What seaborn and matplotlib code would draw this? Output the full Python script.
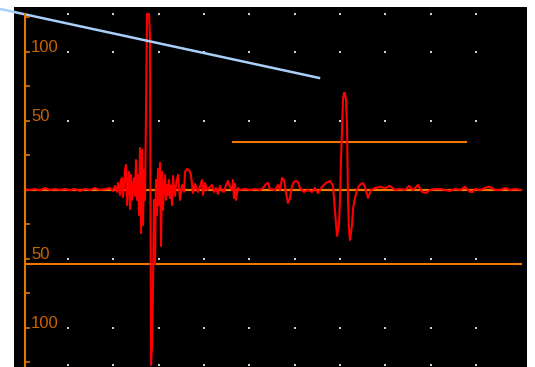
import numpy as np
import pandas as pd
import seaborn as sns
import matplotlib.pyplot as plt

# A-scan trace (sample index, amplitude %)
samples = [0, 5, 10, 15, 20, 25, 30, 35, 40, 45, 50, 55, 60, 65, 70, 75, 80, 85, 88,
           90, 92, 93, 95, 96, 97, 98, 99, 100, 101, 102, 103, 104, 105, 106, 107, 108, 109,
           110, 111, 112, 113, 114, 115, 116, 117, 118, 119, 120, 121, 122, 124, 125, 126,
           127, 128, 129, 130, 131, 132, 133, 134, 135, 136, 137, 138, 139, 140, 141, 142,
           143, 144, 145, 146, 147, 148, 149, 150, 151, 153, 155, 157, 159, 160, 162, 164,
           166, 168, 170, 173, 175, 177, 178, 180, 182, 185, 187, 189, 191, 193, 195, 197,
           199, 201, 203, 205, 207, 208, 209, 210, 211, 213, 215, 220, 225, 230, 235, 238,
           241, 243, 245, 250, 253, 255, 257, 259, 261, 263, 265, 267, 269, 271, 273, 275,
           279, 283, 287, 290, 293, 297, 301, 305, 308, 310, 312, 314, 315, 316, 318, 319,
           320, 321, 322, 323, 324, 325, 327, 328, 330, 332, 334, 336, 338, 340, 343, 346,
           350, 355, 360, 365, 370, 375, 380, 384, 388, 393, 397, 401, 405, 410, 415, 420,
           425, 430, 435, 440, 445, 448, 450, 455, 460, 463, 465, 470, 475, 480, 485, 490, 496]
amplitude = [0.5, 0, 0.7, -0.3, 1.4, 0, 0.7, 0, 0.7, -0.2, 0.7, -0.7, 0.7, 0, 1.4, 0, 0.7, 1.4, -0.7,
             2.9, -1.4, 5.1, -3.6, 7.2, 8.7, -5.1, 2.9, 14.5, 18.1, -10.9, 5.1, 13.0, -13.8, 10.9, -7.2, 1.4, 8.7,
             -4.3, 21.7, -7.2, 10.9, -18.1, 30.4, -31.2, 29.0, -25.4, 14.5, -7.2, 55.8, 127.5, 127.5, 110.1, -126.8,
             -112.3, -70.3, -7.2, -53.6, 7.2, -18.1, 15.2, -10.9, 19.6, -40.6, 13.0, -14.5, 4.3, 10.9, -7.2, 3.6,
             -3.6, 7.2, -5.8, 2.9, -10.9, 10.1, 0, -4.3, 4.3, 10.9, -7.2, 3.6, -1.4, 13.0, 15.2, 14.5,
             10.9, -2.2, 4.3, -1.4, 2.2, 7.2, -3.6, 5.1, 0, 2.2, 3.6, -1.4, 1.4, -2.9, 2.9, -0.7,
             -1.4, 3.6, 6.5, 2.2, 0, 7.2, -5.8, 4.3, -7.2, 1.4, 0, 0.7, 0, 0.7, 0, 1.4,
             4.3, 5.1, 0.7, 0, 3.6, 0, 8.7, 7.2, -2.2, -9.4, -5.8, 2.9, 5.8, 6.5, 5.8, 1.4,
             -1.4, 0, -1.4, 1.4, -2.2, 2.2, 5.1, 6.5, 2.9, -15.2, -33.3, -25.4, -7.2, 21.7, 65.2, 70.3,
             70.3, 65.2, 47.1, -7.2, -29.0, -36.2, -25.4, -13.8, -5.8, 0, 2.9, 4.3, 5.1, 2.2, -5.8, 0,
             1.4, 2.2, 1.4, 2.9, 0, 0.7, 0, 2.9, 0, 3.6, -1.4, -2.2, 0, 0.7, 0.7, 0,
             -0.7, 0.7, 0, 2.2, -1.4, -1.4, 0.7, 0, 1.4, 2.2, 2.2, 0, 0, 1.4, 0, 0.7, 0]

# gates / cursors
dac_x = [-25, 294]
dac_y = [131.2, 81.2]
gate_a_x = [208, 441]
gate_a_y = [34.8, 34.8]
gate_b_x = [0, 496]
gate_b_y = [-53.8, -53.8]

y_ticks = [-100, -50, 50, 100]
y_labels = ['100', '50', '50', '100']

df = pd.DataFrame({'sample': samples, 'amp': amplitude})

fig = plt.figure(figsize=(5.35, 3.67), dpi=100)
ax = fig.add_axes([14 / 535, 0, 513 / 535, 360 / 367])
ax.set_facecolor('black')
ax.set_xlim(-11, 502)
ax.set_ylim(-128.3, 132.6)
for s in ax.spines.values():
    s.set_visible(False)
ax.set_xticks([])
ax.set_yticks([])

# dotted screen graticule
gx = np.arange(42.7, 460, 45.4)
gy = [127.5, 100, 50, -50, -100, -126.8]
GX, GY = np.meshgrid(gx, gy)
ax.scatter(GX.ravel(), GY.ravel(), s=2, color='#d0d0d0', marker='s', linewidths=0, zorder=1)

orange = '#f07800'
ax.plot([0, 496], [0, 0], color=orange, lw=1.6, zorder=2)
ax.plot(gate_b_x, gate_b_y, color=orange, lw=1.5, zorder=2)
ax.plot(gate_a_x, gate_a_y, color=orange, lw=1.5, zorder=2)

sns.lineplot(data=df, x='sample', y='amp', sort=False, estimator=None, color='#ff0000',
             lw=1.5, ax=ax, zorder=3)

ax.plot(dac_x, dac_y, color='#a8d0f8', lw=1.8, clip_on=False, zorder=4)

# amplitude scale drawn on the screen
ax.plot([0, 0], [-128.3, 127.5], color='#e07800', lw=1.5, zorder=5)
for v in [-125, -100, -75, -50, -25, 25, 50, 75, 100, 125]:
    ax.plot([0, 4], [v, v], color='#e07800', lw=1.2, zorder=5)
for v, lab in zip(y_ticks, y_labels):
    ax.text(6, v + 3, lab, color='#c86400', fontsize=12, family='Liberation Sans',
            va='center', ha='left', zorder=5)
ax.set_xlabel('')
ax.set_ylabel('')

fig.savefig('out.png', dpi=100, facecolor='white')
